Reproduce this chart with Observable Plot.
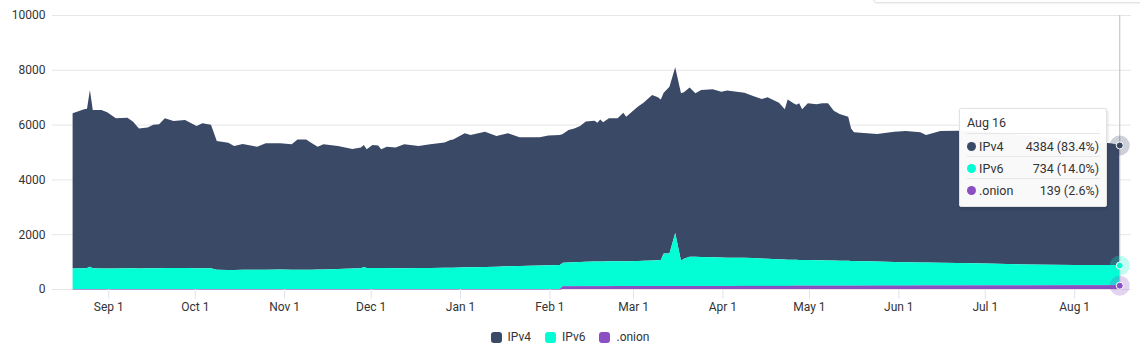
<!DOCTYPE html>
<html>
<head>
<meta charset="utf-8">
<script src="https://cdn.jsdelivr.net/npm/d3@7"></script>
<script src="https://cdn.jsdelivr.net/npm/@observablehq/plot@0.6"></script>
<style>
  html, body { margin: 0; padding: 0; background: #fff; }
  body { font-family: Roboto, "Open Sans", sans-serif; }
  #wrap { position: relative; width: 1140px; height: 351px; overflow: hidden; }
  #chart { position: absolute; left: 0; top: 0; }
  #topbox { position: absolute; left: 873px; top: -40px; width: 300px; height: 41px;
    border: 1px solid #e4e4e4; border-radius: 4px; box-shadow: 0 1px 2px rgba(0,0,0,0.06); }
  #legend { position: absolute; left: 0; top: 327px; width: 1140px; height: 20px;
    display: flex; justify-content: center; align-items: center; font-size: 12px; color: #333; }
  .li { display: flex; align-items: center; margin: 0 7px; }
  .sw { width: 11px; height: 11px; border-radius: 3px; margin-right: 6px; }
  #tip { position: absolute; left: 959px; top: 108px; width: 148px; height: 99px;
    background: rgba(255,255,255,0.97); border: 1px solid #e2e2e2; border-radius: 2px;
    box-shadow: 1px 2px 3px rgba(0,0,0,0.12); font-size: 12.5px; color: #333; box-sizing: border-box; }
  #tip .hd { position: absolute; left: 7px; top: 6px; }
  #tip .sep { position: absolute; left: 7px; width: 133px; height: 1px; background: #e6e6e6; }
  #tip .row { position: absolute; left: 7px; width: 132px; height: 16px; display: flex; align-items: center; }
  #tip .dot { width: 9px; height: 9px; border-radius: 50%; margin-right: 3px; }
  #tip .val { margin-left: auto; }
</style>
</head>
<body>
<div id="wrap">
  <div id="chart"></div>
  <div id="topbox"></div>
  <div id="tip"></div>
  <div id="legend"></div>
</div>
<script>
const seriesNames = ["IPv4", "IPv6", ".onion"];
const seriesColors = ["#3a4966", "#03fdd4", "#8a4fc3"];
const stackOrder = [".onion", "IPv6", "IPv4"];
const snapshotTime = "T15:00:00Z";

const dates = [
"2019-08-19","2019-08-23","2019-08-24","2019-08-25","2019-08-26","2019-08-29","2019-08-31","2019-09-03","2019-09-07","2019-09-09",
"2019-09-11","2019-09-14","2019-09-16","2019-09-18","2019-09-20","2019-09-23","2019-09-27","2019-10-01","2019-10-03","2019-10-06",
"2019-10-08","2019-10-12","2019-10-14","2019-10-17","2019-10-22","2019-10-25","2019-10-30","2019-11-03","2019-11-05","2019-11-08",
"2019-11-10","2019-11-12","2019-11-14","2019-11-19","2019-11-24","2019-11-27","2019-11-28","2019-11-29","2019-12-01","2019-12-03",
"2019-12-04","2019-12-06","2019-12-09","2019-12-12","2019-12-17","2019-12-21","2019-12-26","2019-12-28","2019-12-29","2020-01-02",
"2020-01-04","2020-01-09","2020-01-13","2020-01-17","2020-01-21","2020-01-28","2020-01-31","2020-02-04","2020-02-05","2020-02-07",
"2020-02-09","2020-02-11","2020-02-13","2020-02-16","2020-02-17","2020-02-18","2020-02-19","2020-02-21","2020-02-24","2020-02-26",
"2020-02-27","2020-03-02","2020-03-04","2020-03-07","2020-03-09","2020-03-10","2020-03-11","2020-03-13","2020-03-15","2020-03-17",
"2020-03-18","2020-03-20","2020-03-22","2020-03-24","2020-03-28","2020-03-31","2020-04-02","2020-04-08","2020-04-11","2020-04-14",
"2020-04-16","2020-04-18","2020-04-20","2020-04-22","2020-04-23","2020-04-25","2020-04-26","2020-04-27","2020-04-28","2020-04-30",
"2020-05-03","2020-05-05","2020-05-07","2020-05-09","2020-05-11","2020-05-14","2020-05-15","2020-05-16","2020-05-24","2020-05-30",
"2020-06-03","2020-06-08","2020-06-10","2020-06-15","2020-06-21","2020-07-01","2020-07-15","2020-08-01","2020-08-10","2020-08-13",
"2020-08-16"
];

const ipv4 = [
5660,5800,5810,6450,5770,5780,5700,5480,5495,5345,
5110,5135,5230,5250,5465,5365,5405,5190,5290,5235,
4695,4645,4525,4590,4490,4615,4610,4580,4760,4755,
4615,4480,4565,4490,4360,4400,4455,4330,4490,4470,
4335,4425,4400,4520,4455,4510,4575,4660,4680,4890,
4825,4935,4765,4850,4700,4685,4735,4745,4700,4830,
4885,4968,5118,5137,5067,5182,5086,5221,5220,5415,
5275,5629,5769,6038,5948,5863,5862,6082,6042,6112,
6072,6171,5966,6091,6130,6050,6095,6024,5913,5818,
5897,5807,5716,5486,5851,5715,5657,5720,5500,5724,
5689,5733,5738,5472,5357,5261,4836,4701,4659,4753,
4792,4751,4655,4809,4833,4821,4708,4570,4473,4444,
4384
];

const ipv6 = [
750,760,770,810,760,750,750,750,755,755,
750,755,760,760,765,765,765,760,760,755,
705,695,695,700,700,705,710,700,700,705,
705,710,715,730,750,760,805,770,770,770,
765,765,760,760,765,770,775,780,780,790,
795,805,815,830,840,855,865,875,860,870,
875,880,890,900,900,905,900,905,905,910,
910,915,925,935,945,950,1190,1190,1940,920,
1000,1070,1065,1060,1050,1040,1035,1025,1015,1000,
990,980,970,960,955,950,948,945,945,940,
935,930,925,920,915,910,905,900,880,865,
855,845,840,835,820,800,760,745,740,738,
734
];

const onion = [
0,0,0,0,0,0,0,0,0,0,
0,0,0,0,0,0,0,0,0,0,
0,0,0,0,0,0,0,0,0,0,
0,0,0,0,0,0,0,0,0,0,
0,0,0,0,0,0,0,0,0,0,
0,0,0,0,0,0,0,0,100,100,
100,102,102,103,103,103,104,104,105,105,
105,106,106,107,107,107,108,108,108,108,
108,109,109,109,110,110,110,111,112,112,
113,113,114,114,114,115,115,115,115,116,
116,117,117,118,118,119,119,119,121,122,
123,124,125,126,127,129,132,135,137,138,
139
];

const yTicks = [0, 2000, 4000, 6000, 8000, 10000];
const xTicks = ["2019-09-01","2019-10-01","2019-11-01","2019-12-01","2020-01-01","2020-02-01",
                "2020-03-01","2020-04-01","2020-05-01","2020-06-01","2020-07-01","2020-08-01"];
const xDomain = ["2019-08-12T11:30:00Z", "2020-08-20T16:48:00Z"];

const rows = [];
dates.forEach((d, i) => {
  const date = new Date(d + snapshotTime);
  rows.push({date, series: "IPv4", value: ipv4[i]});
  rows.push({date, series: "IPv6", value: ipv6[i]});
  rows.push({date, series: ".onion", value: onion[i]});
});
const lastDate = new Date(dates[dates.length - 1] + snapshotTime);
const lastRows = rows.filter(r => +r.date === +lastDate);
const onionRows = rows.filter(r => r.series === ".onion");

const chart = Plot.plot({
  width: 1140,
  height: 320,
  marginLeft: 52,
  marginRight: 9,
  marginTop: 15,
  marginBottom: 31,
  style: {fontFamily: "Roboto, sans-serif", fontSize: "12px", background: "transparent"},
  x: {type: "utc", domain: xDomain.map(s => new Date(s))},
  y: {domain: [0, 10000]},
  color: {domain: seriesNames, range: seriesColors},
  marks: [
    Plot.gridY(yTicks, {stroke: "#e6e6e6", strokeOpacity: 1}),
    Plot.areaY(rows, {x: "date", y: "value", z: "series", fill: "series", order: stackOrder}),
    Plot.lineY(onionRows, {x: "date", y: "value", stroke: "#8a4fc3", strokeOpacity: 0.55, strokeWidth: 1.2}),
    Plot.axisY({ticks: yTicks, tickFormat: d3.format("d"), tickSize: 0, tickPadding: 7, fill: "#333", label: null, fontSize: 12}),
    Plot.axisX({ticks: xTicks.map(s => new Date(s)), tickFormat: d3.utcFormat("%b %-d"),
      tickSize: 10, tickPadding: 3, stroke: "#dfe3ea", strokeOpacity: 1, fill: "#333", label: null, fontSize: 12}),
    Plot.ruleX([lastDate], {y1: 0, y2: 10000, stroke: "#bdbdbd", strokeWidth: 1}),
    Plot.dot(lastRows, Plot.stackY2({x: "date", y: "value", z: "series", order: stackOrder,
      r: 10, fill: "series", fillOpacity: 0.25, stroke: null})),
    Plot.dot(lastRows, Plot.stackY2({x: "date", y: "value", z: "series", order: stackOrder,
      r: 3.5, fill: "series", stroke: "#fff", strokeWidth: 1}))
  ]
});
document.getElementById("chart").appendChild(chart);

// legend
const legend = document.getElementById("legend");
seriesNames.forEach((name, i) => {
  const item = document.createElement("div");
  item.className = "li";
  const sw = document.createElement("div");
  sw.className = "sw";
  sw.style.background = seriesColors[i];
  const t = document.createElement("span");
  t.textContent = name;
  item.appendChild(sw); item.appendChild(t);
  legend.appendChild(item);
});

// tooltip
const tip = document.getElementById("tip");
const lastIdx = dates.length - 1;
const lastVals = [ipv4[lastIdx], ipv6[lastIdx], onion[lastIdx]];
const total = lastVals.reduce((a, b) => a + b, 0);
const hd = document.createElement("div");
hd.className = "hd";
hd.textContent = d3.utcFormat("%b %-d")(lastDate);
tip.appendChild(hd);
const rowTops = [29, 51, 73];
const sepTops = [24, 47, 69];
sepTops.forEach(top => {
  const s = document.createElement("div");
  s.className = "sep"; s.style.top = top + "px";
  tip.appendChild(s);
});
seriesNames.forEach((name, i) => {
  const r = document.createElement("div");
  r.className = "row"; r.style.top = rowTops[i] + "px";
  const dot = document.createElement("div");
  dot.className = "dot"; dot.style.background = seriesColors[i];
  const n = document.createElement("span");
  n.textContent = name;
  const v = document.createElement("span");
  v.className = "val";
  v.textContent = lastVals[i] + " (" + (lastVals[i] / total * 100).toFixed(1) + "%)";
  r.appendChild(dot); r.appendChild(n); r.appendChild(v);
  tip.appendChild(r);
});
</script>
</body>
</html>
